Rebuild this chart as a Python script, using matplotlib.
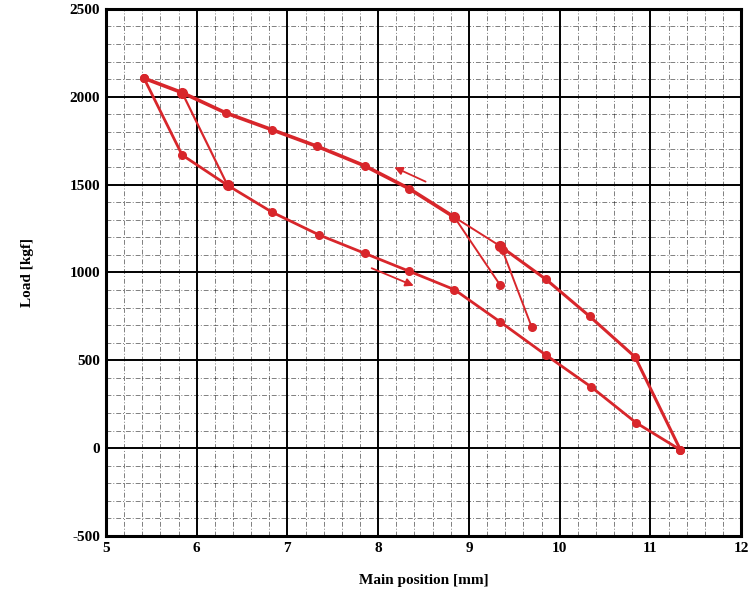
import numpy as np
import matplotlib
matplotlib.use("Agg")
import matplotlib.pyplot as plt
from matplotlib.ticker import MultipleLocator

# courbe haute (chargement)
upper_x = [5.42, 5.84, 6.32, 6.83, 7.33, 7.85, 8.34, 8.84]
upper_y = [2105, 2023, 1908, 1812, 1717, 1607, 1477, 1314]

# suite de la courbe haute jusqu'au point bas
upper2_x = [9.34, 9.85, 10.33, 10.83, 11.33]
upper2_y = [1151, 960, 750, 519, -10]

# courbe basse (retour)
lower_x = [11.33, 10.84, 10.35, 9.85, 9.34, 8.84, 8.34, 7.85, 7.35, 6.83, 6.34, 5.84, 5.42]
lower_y = [-10, 145, 347, 529, 720, 902, 1007, 1109, 1213, 1343, 1496, 1668, 2105]

# petites branches
branch_a_x = [5.84, 6.34]
branch_a_y = [2023, 1496]
branch_b_x = [8.84, 9.34]
branch_b_y = [1314, 931]
branch_c_x = [8.84, 9.34]
branch_c_y = [1314, 1151]
branch_d_x = [9.37, 9.69]
branch_d_y = [1125, 691]

RED = "#d8262b"

plt.rcParams["font.family"] = ["Liberation Serif", "DejaVu Serif"]
plt.rcParams["font.weight"] = "bold"
plt.rcParams["axes.unicode_minus"] = False

fig = plt.figure(figsize=(7.51, 5.92), dpi=100)
ax = fig.add_axes([0.141, 0.0946, 0.846, 0.8905])

ax.set_xlim(5, 12)
ax.set_ylim(-500, 2500)
ax.xaxis.set_major_locator(MultipleLocator(1))
ax.xaxis.set_minor_locator(MultipleLocator(0.2))
ax.yaxis.set_major_locator(MultipleLocator(500))
ax.yaxis.set_minor_locator(MultipleLocator(100))

ax.grid(which="major", color="black", linewidth=1.4)
ax.grid(which="minor", color="black", linewidth=0.7, alpha=0.5,
        linestyle=(0, (5, 2, 1, 2)))
ax.set_axisbelow(True)

for s in ax.spines.values():
    s.set_linewidth(2.2)
ax.tick_params(which="major", length=0, labelsize=11, pad=4)
ax.tick_params(which="minor", length=0)

# tracés
ax.plot(upper_x, upper_y, color=RED, lw=2.6, marker="o", ms=5.5)
ax.plot(upper2_x, upper2_y, color=RED, lw=2.2, marker="o", ms=5.5)
ax.plot(lower_x, lower_y, color=RED, lw=2.0, marker="o", ms=5.5)
ax.plot(branch_a_x, branch_a_y, color=RED, lw=1.6, marker="o", ms=7)
ax.plot(branch_b_x, branch_b_y, color=RED, lw=1.4, marker="o", ms=5.5)
ax.plot(branch_c_x, branch_c_y, color=RED, lw=1.4, marker="o", ms=7)
ax.plot(branch_d_x, branch_d_y, color=RED, lw=1.4, marker="o", ms=5.5)

# flèches de sens
ax.annotate("", xy=(8.15, 1605), xytext=(8.55, 1510),
            arrowprops=dict(arrowstyle="-|>", color=RED, lw=1.3, mutation_scale=12))
ax.annotate("", xy=(8.42, 918), xytext=(7.9, 1030),
            arrowprops=dict(arrowstyle="-|>", color=RED, lw=1.3, mutation_scale=12))

ax.set_xlabel("Main position [mm]", fontsize=11, fontweight="bold", labelpad=14)
ax.set_ylabel("Load [kgf]", fontsize=11, fontweight="bold", labelpad=26)

fig.savefig("out.png", dpi=100)
